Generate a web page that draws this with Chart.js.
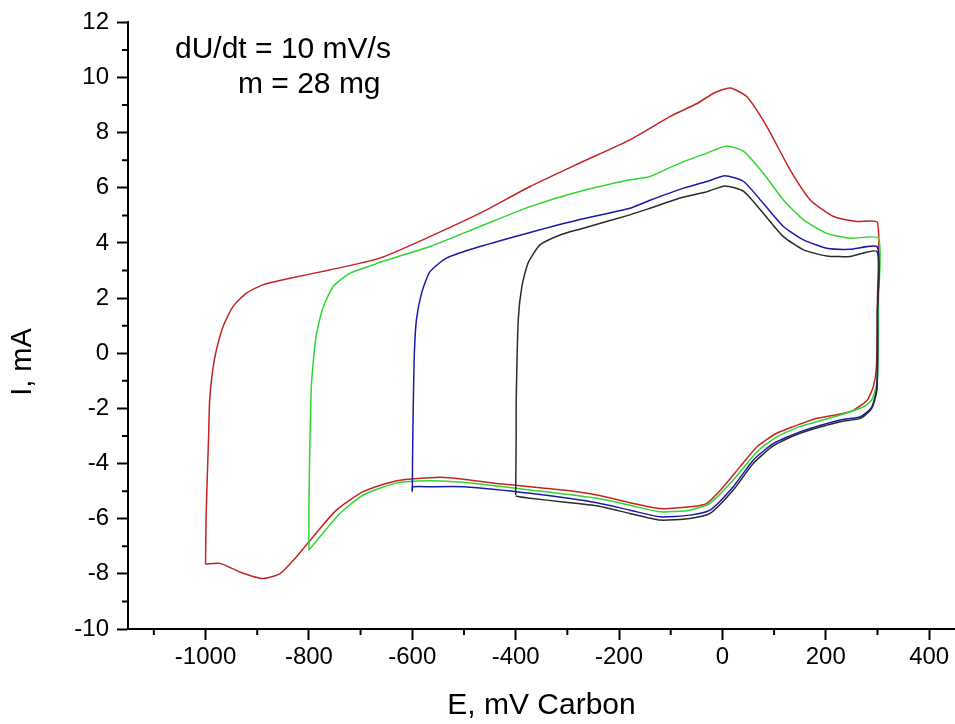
<!DOCTYPE html>
<html>
<head>
<meta charset="utf-8">
<script src="https://cdn.jsdelivr.net/npm/chart.js@4"></script>
<style>
  html, body { margin: 0; padding: 0; background: #fff; }
  #wrap { width: 955px; height: 724px; position: relative; }
</style>
</head>
<body>
<div id="wrap"><canvas id="cvChart"></canvas></div>
<script>
// cyclic voltammograms, one loop per switching potential
const redE = [-1000, -999, -997, -994, -992, -986, -979, -966, -947, -921, -889, -837, -760, -663, -566, -469, -372, -276, -179, -100, -50, -15, 15, 47, 86, 131, 170, 215, 260, 300, 300, 298, 292, 280, 254, 228, 183, 137, 105, 67, 34, 2, -30, -63, -121, -179, -243, -308, -372, -437, -501, -547, -630, -695, -747, -792, -824, -856, -889, -934, -972, -1000];
const redI = [-7.65, -6.0, -4.7, -3.0, -1.7, -0.6, 0.12, 0.97, 1.69, 2.18, 2.48, 2.72, 3.02, 3.45, 4.23, 5.08, 6.05, 6.9, 7.74, 8.6, 9.05, 9.45, 9.62, 9.31, 8.22, 6.65, 5.56, 4.96, 4.78, 4.74, 2.0, -0.49, -1.21, -1.7, -2.06, -2.2, -2.36, -2.66, -2.9, -3.39, -4.12, -4.84, -5.44, -5.57, -5.63, -5.42, -5.14, -4.96, -4.84, -4.72, -4.57, -4.5, -4.62, -5.02, -5.69, -6.66, -7.38, -7.99, -8.17, -7.93, -7.62, -7.65];

const greenE = [-800, -800, -798, -796, -795, -790, -785, -772, -753, -721, -676, -663, -566, -469, -372, -276, -179, -140, -100, -75, -30, 8, 41, 79, 118, 157, 202, 247, 302, 302, 300, 289, 273, 228, 150, 105, 67, 21, -24, -63, -121, -179, -243, -372, -501, -566, -630, -695, -740, -779, -800];
const greenI = [-7.14, -5.57, -3.15, -1.6, -1.09, 0.0, 0.73, 1.69, 2.42, 2.9, 3.2, 3.3, 3.87, 4.6, 5.32, 5.87, 6.29, 6.41, 6.75, 6.95, 7.26, 7.52, 7.32, 6.53, 5.56, 4.84, 4.35, 4.17, 4.17, 2.0, -0.97, -1.69, -1.94, -2.24, -2.66, -3.03, -3.57, -4.6, -5.44, -5.69, -5.75, -5.51, -5.26, -4.96, -4.68, -4.62, -4.7, -5.14, -5.81, -6.66, -7.14];

const blueE = [-600, -599, -598, -596, -592, -582, -566, -534, -469, -372, -276, -179, -140, -75, -30, 5, 41, 79, 118, 157, 202, 247, 300, 300, 299, 289, 267, 228, 150, 99, 60, 21, -24, -63, -121, -179, -243, -372, -501, -566, -600, -600];
const blueI = [-5.02, -3.0, -1.81, 0.0, 1.21, 2.18, 2.95, 3.45, 3.87, 4.38, 4.85, 5.26, 5.55, 5.99, 6.23, 6.44, 6.23, 5.44, 4.6, 4.11, 3.81, 3.77, 3.85, 1.5, -1.21, -1.94, -2.3, -2.42, -2.85, -3.27, -3.87, -4.84, -5.69, -5.87, -5.93, -5.69, -5.42, -5.08, -4.84, -4.84, -4.85, -5.02];

const blackE = [-400, -399, -399, -395, -388, -376, -353, -314, -276, -179, -140, -82, -30, 5, 41, 79, 118, 157, 202, 247, 299, 300, 299, 289, 267, 228, 150, 99, 60, 21, -24, -63, -121, -179, -243, -308, -372, -400];
const blackI = [-5.14, -3.0, -1.81, 1.21, 2.42, 3.27, 3.93, 4.29, 4.5, 5.02, 5.26, 5.63, 5.86, 6.07, 5.87, 5.08, 4.23, 3.75, 3.53, 3.51, 3.69, 1.5, -1.3, -2.0, -2.36, -2.48, -2.9, -3.35, -3.99, -4.96, -5.81, -5.99, -6.05, -5.81, -5.53, -5.39, -5.26, -5.18];

const xTicks = [-1000, -800, -600, -400, -200, 0, 200, 400];
const xMinor = [-1100, -900, -700, -500, -300, -100, 100, 300];
const yTicks = [-10, -8, -6, -4, -2, 0, 2, 4, 6, 8, 10, 12];
const yMinor = [-9, -7, -5, -3, -1, 1, 3, 5, 7, 9, 11];

const notes = ['dU/dt = 10 mV/s', 'm = 28 mg'];
const yTitle = 'I, mA';

const FONT = '"Liberation Sans", Arial, sans-serif';

const toPoints = (es, is) => es.map((e, i) => ({ x: e, y: is[i] }));

const loop = (es, is, color) => ({
  data: toPoints(es, is),
  showLine: true,
  borderColor: color,
  borderWidth: 1.5,
  pointRadius: 0,
  tension: 0.2,
  fill: false
});

// short unlabeled ticks, the y title and the text block
const extras = {
  id: 'extras',
  afterDraw(chart) {
    const { ctx, scales: { x, y } } = chart;
    ctx.save();
    ctx.strokeStyle = '#000';
    ctx.lineWidth = 2;
    ctx.beginPath();
    xMinor.forEach(v => {
      const px = x.getPixelForValue(v);
      ctx.moveTo(px, x.top);
      ctx.lineTo(px, x.top + 6);
    });
    yMinor.forEach(v => {
      const py = y.getPixelForValue(v);
      ctx.moveTo(y.right, py);
      ctx.lineTo(y.right - 6, py);
    });
    ctx.stroke();

    ctx.fillStyle = '#000';
    ctx.font = '30px ' + FONT;
    ctx.textBaseline = 'alphabetic';
    ctx.fillText(notes[0], 175, 58);
    ctx.fillText(notes[1], 238, 93);

    ctx.translate(23, 362);
    ctx.rotate(-Math.PI / 2);
    ctx.textAlign = 'center';
    ctx.textBaseline = 'middle';
    ctx.font = '29px ' + FONT;
    ctx.fillText(yTitle, 0, 0);
    ctx.restore();
  }
};

new Chart(document.getElementById('cvChart'), {
  type: 'scatter',
  data: {
    datasets: [
      loop(blackE, blackI, '#2b2b2b'),
      loop(blueE, blueI, '#1a1aa8'),
      loop(greenE, greenI, '#2ed62e'),
      loop(redE, redI, '#c42424')
    ]
  },
  options: {
    responsive: true,
    maintainAspectRatio: false,
    animation: false,
    layout: { padding: { top: 22, right: 0, bottom: 0, left: 0 } },
    plugins: {
      legend: { display: false },
      tooltip: { enabled: false }
    },
    scales: {
      x: {
        type: 'linear',
        min: -1150,
        max: 450,
        afterBuildTicks: s => { s.ticks = xTicks.map(v => ({ value: v })); },
        afterFit: s => { s.height = 95; },
        border: { display: true, color: '#000', width: 2 },
        grid: { display: true, drawOnChartArea: false, tickLength: 11, tickColor: '#000', tickWidth: 2 },
        ticks: { color: '#000', font: { family: FONT, size: 24 }, padding: 3, maxRotation: 0, callback: v => String(v) },
        title: { display: true, text: 'E, mV Carbon', color: '#000', font: { family: FONT, size: 30 }, padding: { top: 0, bottom: 0 } }
      },
      y: {
        type: 'linear',
        min: -10,
        max: 12,
        afterBuildTicks: s => { s.ticks = yTicks.map(v => ({ value: v })); },
        afterFit: s => { s.width = 128; },
        border: { display: true, color: '#000', width: 2 },
        grid: { display: true, drawOnChartArea: false, tickLength: 11, tickColor: '#000', tickWidth: 2 },
        ticks: { color: '#000', font: { family: FONT, size: 24 }, padding: 8, callback: v => String(v) },
        title: { display: false }
      }
    }
  },
  plugins: [extras]
});
</script>
</body>
</html>
